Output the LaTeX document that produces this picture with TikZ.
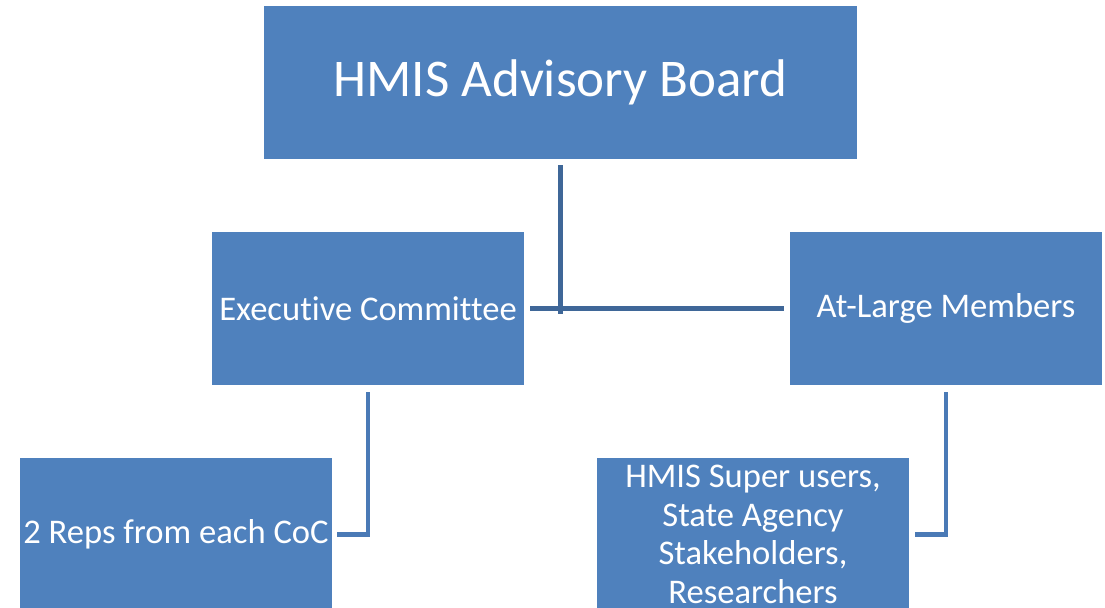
\documentclass[tikz,border=0pt]{standalone}
\usepackage{fontspec}
\setmainfont{Carlito}[Ligatures=NoCommon]
\definecolor{boxblue}{HTML}{4F81BD}
\definecolor{linkdark}{HTML}{3F6798}
\definecolor{linklight}{HTML}{4A7AB6}

\begin{document}
\begin{tikzpicture}[
	unit/.style={fill=boxblue, text=white, inner sep=0pt, minimum width=7.8cm, minimum height=3.83cm, align=center, font=\fontsize{24.6}{27.4}\selectfont},
	link/.style={draw=linkdark, line width=3.5pt},
	sublink/.style={draw=linklight, line width=3.5pt}]
	\clip (0,0) rectangle (27.625,-15.175);
	% top of the chart
	\node[unit, minimum width=14.83cm, font=\fontsize{37.7}{45}\selectfont] (board) at (14.01,-2.06) {HMIS Advisory Board};
	\node[unit] (exec) at (9.2,-7.71) {Executive Committee};
	\node[unit] (atlarge) at (23.65,-7.71) {At-Large Members};
	% bottom row, cut by the page
	\node[unit] (reps) at (4.4,-13.36) {2 Reps from each CoC};
	\node[unit] (super) at (18.825,-13.36) {HMIS Super users,\\State Agency\\Stakeholders,\\Researchers};
	\draw[link] ([yshift=-0.15cm]board.south) -- ([yshift=-0.15cm]board.south |- exec.east);
	\draw[link] ([xshift=0.15cm]exec.east) -- ([xshift=-0.15cm]atlarge.west);
	\draw[sublink] ([yshift=-0.18cm]exec.south) |- ([xshift=0.13cm]reps.east);
	\draw[sublink] ([yshift=-0.18cm]atlarge.south) |- ([xshift=0.15cm]super.east);
\end{tikzpicture}
\end{document}
